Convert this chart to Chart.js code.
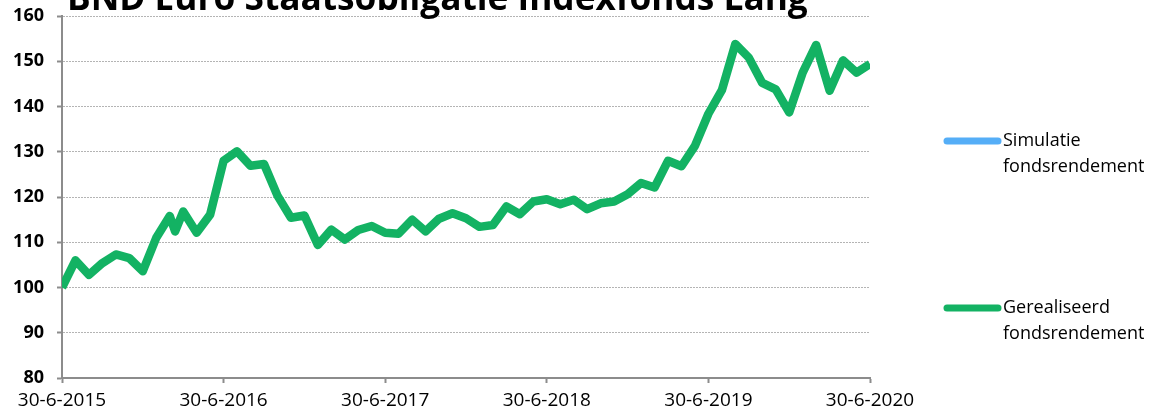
<!DOCTYPE html>
<html>
<head>
<meta charset="utf-8">
<script src="https://cdn.jsdelivr.net/npm/chart.js@4"></script>
<style>
  html, body { margin: 0; padding: 0; background: #ffffff; }
  #wrap { width: 1155px; height: 414px; }
</style>
</head>
<body>
<div id="wrap"><canvas id="c" width="1155" height="414"></canvas></div>
<script>
const chartTitle = 'BND Euro Staatsobligatie Indexfonds Lang';
const xTickLabels = ['30-6-2015', '30-6-2016', '30-6-2017', '30-6-2018', '30-6-2019', '30-6-2020'];
const seriesNames = [['Simulatie', 'fondsrendement'], ['Gerealiseerd', 'fondsrendement']];
// months elapsed since 30-6-2015
const months = [0, 1, 2, 3, 4, 5, 6, 7, 8, 8.4, 9, 10, 11, 12, 13, 14, 15, 16, 17, 18, 19, 20,
  21, 22, 23, 24, 25, 26, 27, 28, 29, 30, 31, 32, 33, 34, 35, 36, 37, 38, 39, 40,
  41, 42, 43, 44, 45, 46, 47, 48, 49, 50, 51, 52, 53, 54, 55, 56, 57, 58, 59, 60];
const realised = [100, 106, 102.8, 105.4, 107.3, 106.5, 103.6, 111, 115.8, 112.4, 116.8, 112.1, 116.1, 128, 130.1, 126.9, 127.3, 120.3, 115.4, 115.9, 109.4, 112.8,
  110.6, 112.7, 113.6, 112.1, 111.9, 115, 112.4, 115.2, 116.4, 115.3, 113.4, 113.8, 117.9, 116.2, 119.0, 119.5, 118.4, 119.4, 117.3, 118.6,
  119.0, 120.6, 123.1, 122.1, 128.0, 126.8, 131.3, 138.4, 143.6, 153.8, 150.8, 145.2, 143.8, 138.7, 147.5, 153.6, 143.5, 150.2, 147.5, 149.4];
const simulation = [];
const yMin = 80, yMax = 160, yStep = 10;
const xMin = 0, xMax = 60, xStep = 12;

const colorSim = '#55AEF7';
const colorReal = '#13B263';

const titlePlugin = {
  id: 'customTitle',
  afterDraw(chart) {
    const ctx = chart.ctx;
    ctx.save();
    ctx.font = 'bold 100px "Open Sans"';
    const w = ctx.measureText(chartTitle).width;
    const size = 100 * 741 / w;
    ctx.font = 'bold ' + size.toFixed(2) + 'px "Open Sans"';
    ctx.fillStyle = '#000';
    ctx.textBaseline = 'alphabetic';
    ctx.textAlign = 'left';
    ctx.fillText(chartTitle, 67, 10);
    ctx.restore();
  }
};

const legendPlugin = {
  id: 'customLegend',
  afterDraw(chart) {
    const ctx = chart.ctx;
    const rows = [141, 308];
    ctx.save();
    chart.data.datasets.forEach((ds, i) => {
      const y = rows[i];
      ctx.strokeStyle = ds.borderColor;
      ctx.lineWidth = 7;
      ctx.lineCap = 'round';
      ctx.beginPath();
      ctx.moveTo(947, y);
      ctx.lineTo(998, y);
      ctx.stroke();
      ctx.fillStyle = '#000';
      ctx.font = '18px "Open Sans"';
      ctx.textBaseline = 'middle';
      ctx.textAlign = 'left';
      seriesNames[i].forEach((t, k) => ctx.fillText(t, 1003, y + k * 26));
    });
    ctx.restore();
  }
};

new Chart(document.getElementById('c'), {
  type: 'line',
  data: {
    datasets: [
      {
        label: seriesNames[0].join(' '),
        data: simulation.map((v, i) => ({ x: months[i], y: v })),
        borderColor: colorSim,
        backgroundColor: colorSim,
        borderWidth: 8,
        pointRadius: 0,
        tension: 0
      },
      {
        label: seriesNames[1].join(' '),
        data: realised.map((v, i) => ({ x: months[i], y: v })),
        borderColor: colorReal,
        backgroundColor: colorReal,
        borderWidth: 8.5,
        borderJoinStyle: 'round',
        borderCapStyle: 'butt',
        pointRadius: 0,
        tension: 0
      }
    ]
  },
  options: {
    responsive: false,
    animation: false,
    devicePixelRatio: 1,
    layout: { padding: { top: 16, right: 285, bottom: 0, left: 0 } },
    plugins: {
      legend: { display: false },
      title: { display: false },
      tooltip: { enabled: false }
    },
    scales: {
      x: {
        type: 'linear',
        min: xMin,
        max: xMax,
        afterFit(scale) { scale.height = 36; scale.paddingLeft = 0; scale.paddingRight = 0; },
        ticks: {
          stepSize: xStep,
          autoSkip: false,
          maxRotation: 0,
          padding: 6,
          color: '#000',
          font: { family: '"Open Sans"', size: 19 },
          callback: (v) => xTickLabels[Math.round(v / xStep)]
        },
        grid: {
          drawOnChartArea: false,
          drawTicks: true,
          tickLength: 5,
          tickColor: '#8c8c8c',
          tickWidth: 2
        },
        border: { display: true, color: '#8c8c8c', width: 2 }
      },
      y: {
        min: yMin,
        max: yMax,
        afterFit(scale) { scale.width = 62; scale.paddingTop = 0; scale.paddingBottom = 0; },
        ticks: {
          stepSize: yStep,
          padding: 13,
          color: '#000',
          font: { family: '"Open Sans"', size: 18, weight: 'bold' }
        },
        grid: {
          color: '#b4b4b4',
          lineWidth: 1,
          drawTicks: true,
          tickLength: 5,
          tickColor: '#8c8c8c',
          tickWidth: 2,
          tickBorderDash: []
        },
        border: { display: true, color: '#8c8c8c', width: 2, dash: [2, 1] }
      }
    }
  },
  plugins: [titlePlugin, legendPlugin]
});
</script>
</body>
</html>
